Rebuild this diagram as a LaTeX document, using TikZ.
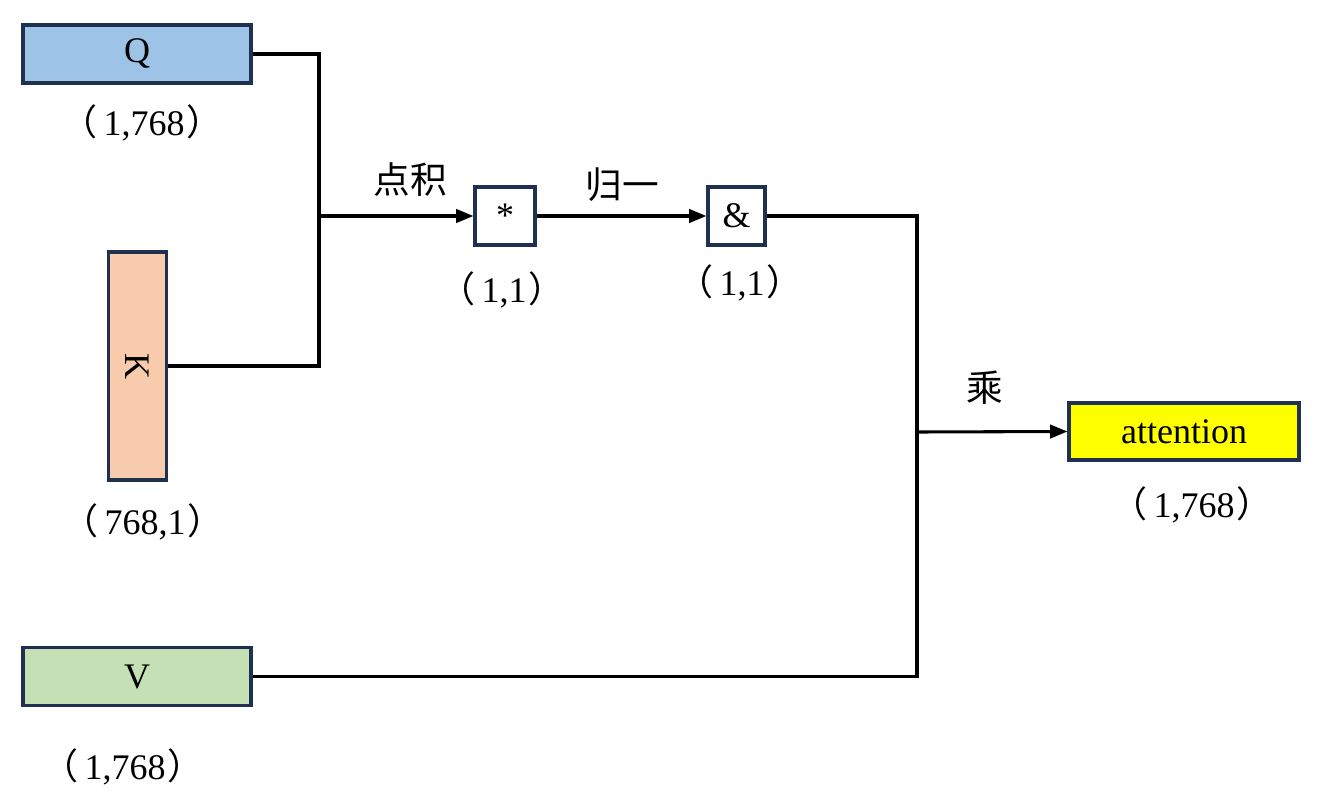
\documentclass[tikz,border=0pt]{standalone}
\usepackage{fontspec}
\setmainfont{Liberation Serif}
\newfontfamily\cjk{Noto Sans CJK SC}
\usetikzlibrary{arrows.meta}
\definecolor{bordc}{HTML}{1F3050}
\definecolor{qfill}{HTML}{9DC3E6}
\definecolor{kfill}{HTML}{F8CBAD}
\definecolor{vfill}{HTML}{C5E0B4}
\definecolor{afill}{HTML}{FFFF00}
\newcommand{\dimlab}[1]{{\cjk （}\hspace{0.18em}#1\hspace{0.06em}{\cjk ）}}
\begin{document}
\begin{tikzpicture}[x=0.75pt,y=-0.75pt,
  box/.style={draw=bordc,line width=2.3pt,inner sep=0pt,font=\fontsize{27}{30}\selectfont},
  lab/.style={inner sep=0pt,font=\fontsize{27}{30}\selectfont},
  cn/.style={inner sep=0pt,font=\fontsize{27.5}{30}\selectfont\cjk},
  conn/.style={line width=2.3pt,black},
  arr/.style={conn,-{Triangle[length=13pt,width=10pt]}}]
\useasboundingbox (0,0) rectangle (1317,799);
% boxes
\node[box,fill=qfill,minimum width=171pt,minimum height=43.5pt] (Q) at (137,54) {Q};
\node[box,fill=kfill,minimum width=44pt,minimum height=171pt] (K) at (137.5,366) {\rotatebox{-90}{K}};
\node[box,fill=vfill,minimum width=171pt,minimum height=44pt] (V) at (137,676.5) {V};
\node[box,fill=white,minimum width=45pt,minimum height=43.5pt] (star) at (505,216) {*};
\node[box,fill=white,minimum width=42.75pt,minimum height=43.5pt] (amp) at (736.5,216) {\&};
\node[box,fill=afill,minimum width=172.5pt,minimum height=42.75pt] (att) at (1184,431.5) {attention};
% dimension labels
\node[lab] (qd) at (142,123) {\dimlab{1,768}};
\node[lab] (kd) at (143,522) {\dimlab{768,1}};
\node[lab] (vd) at (123,767) {\dimlab{1,768}};
\node[lab] (sd) at (502,290) {\dimlab{1,1}};
\node[lab] (ad) at (740,283) {\dimlab{1,1}};
\node[lab] (td) at (1192,505) {\dimlab{1,768}};
% operation labels
\node[cn] (l1) at (410,180) {点积};
\node[cn] (l2) at (622,185) {归一};
\node[cn] (l3) at (985,388) {乘};
% junctions
\coordinate (j1) at (319,216);
\coordinate (j2) at (917,432);
% connectors
\draw[conn] (Q.east) -| (j1);
\draw[conn] (K.east) -| (j1);
\draw[arr] (j1) -- (star.west);
\draw[arr] (star.east) -- (amp.west);
\draw[conn] (amp.east) -| (j2);
\draw[conn] (V.east) -| (j2);
\draw[arr] (j2) -- (att.west);
\end{tikzpicture}
\end{document}
